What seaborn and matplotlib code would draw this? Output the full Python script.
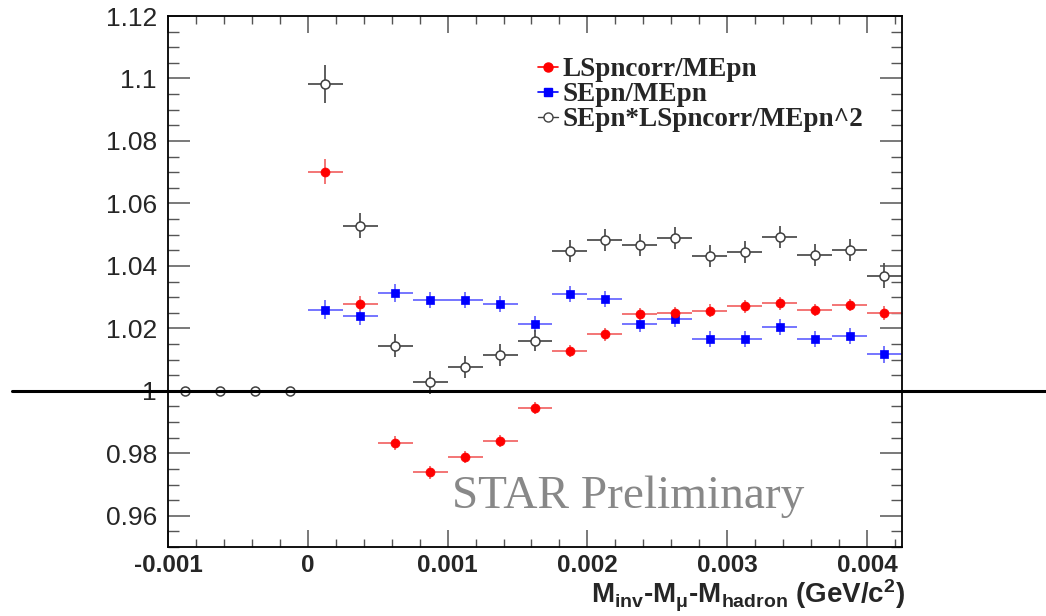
import numpy as np
import pandas as pd
import matplotlib
matplotlib.use("Agg")
import matplotlib.pyplot as plt
import matplotlib.ticker as mticker
import matplotlib.transforms as mtransforms
from matplotlib.lines import Line2D
import seaborn as sns

# bin centres (GeV/c^2)
bin_centers = [-0.000875, -0.000625, -0.000375, -0.000125,
               0.000125, 0.000375, 0.000625, 0.000875, 0.001125,
               0.001375, 0.001625, 0.001875, 0.002125, 0.002375,
               0.002625, 0.002875, 0.003125, 0.003375, 0.003625,
               0.003875, 0.004125]
half_bin = 0.000125

# LSpncorr/MEpn (starts at bin 5)
ls_ratio = [1.0701, 1.0279, 0.9832, 0.9739, 0.9788, 0.9840, 0.9945, 1.0127,
            1.0181, 1.0246, 1.0248, 1.0257, 1.0270, 1.0280, 1.0259, 1.0274, 1.0248]
ls_err = [0.0040, 0.0025, 0.0022, 0.0020, 0.0020, 0.0020, 0.0020, 0.0020,
          0.0020, 0.0020, 0.0020, 0.0020, 0.0020, 0.0020, 0.0020, 0.0020, 0.0022]

# SEpn/MEpn (starts at bin 5)
se_ratio = [1.0260, 1.0240, 1.0314, 1.0292, 1.0292, 1.0277, 1.0215, 1.0311,
            1.0295, 1.0213, 1.0231, 1.0167, 1.0167, 1.0204, 1.0167, 1.0175, 1.0117]
se_err = [0.0030, 0.0028, 0.0028, 0.0026, 0.0026, 0.0026, 0.0026, 0.0026,
          0.0026, 0.0026, 0.0026, 0.0026, 0.0026, 0.0026, 0.0026, 0.0026, 0.0028]

# SEpn*LSpncorr/MEpn^2 (all bins)
prod_ratio = [1.0, 1.0, 1.0, 1.0,
              1.0983, 1.0529, 1.0144, 1.0027, 1.0075, 1.0115, 1.0161, 1.0447,
              1.0482, 1.0468, 1.0488, 1.0433, 1.0444, 1.0492, 1.0436, 1.0450, 1.0369]
prod_err = [0.0, 0.0, 0.0, 0.0,
            0.0060, 0.0040, 0.0037, 0.0037, 0.0035, 0.0035, 0.0035, 0.0035,
            0.0035, 0.0035, 0.0035, 0.0035, 0.0035, 0.0035, 0.0035, 0.0035, 0.0040]

labels = ["LSpncorr/MEpn", "SEpn/MEpn", "SEpn*LSpncorr/MEpn^2"]

#style
sns.set_theme(style="ticks")
plt.rcParams["font.family"] = ["Liberation Sans", "DejaVu Sans"]
plt.rcParams["mathtext.fontset"] = "custom"
plt.rcParams["mathtext.rm"] = "Liberation Sans:bold"
plt.rcParams["mathtext.bf"] = "Liberation Sans:bold"
plt.rcParams["mathtext.it"] = "Liberation Sans:bold"
plt.rcParams["mathtext.default"] = "bf"

fig = plt.figure(figsize=(10.46, 6.16), dpi=100)
fig.patch.set_facecolor("white")
ax = fig.add_axes([0.1606, 0.112, 0.7017, 0.862])

x_ls = bin_centers[4:]
df_ls = pd.DataFrame({"x": x_ls, "y": ls_ratio})
df_se = pd.DataFrame({"x": x_ls, "y": se_ratio})
df_pr = pd.DataFrame({"x": bin_centers, "y": prod_ratio})

xerr_pr = [0.0 if e == 0 else half_bin for e in prod_err]

# error bars
ax.errorbar(x_ls, se_ratio, xerr=half_bin, yerr=se_err, fmt="none",
            ecolor="#6a6aff", elinewidth=1.3, capsize=0, zorder=2)
ax.errorbar(x_ls, ls_ratio, xerr=half_bin, yerr=ls_err, fmt="none",
            ecolor="#f26a6a", elinewidth=1.3, capsize=0, zorder=2)
ax.errorbar(bin_centers, prod_ratio, xerr=xerr_pr, yerr=prod_err, fmt="none",
            ecolor="#505050", elinewidth=1.3, capsize=0, zorder=2)

# markers
sns.scatterplot(data=df_se, x="x", y="y", marker="s", s=36, color="#0000ff",
                edgecolor="#0000ff", linewidth=0.5, ax=ax, zorder=3)
sns.scatterplot(data=df_ls, x="x", y="y", marker="o", s=42, color="#ff0000",
                edgecolor="#ff0000", linewidth=0.5, ax=ax, zorder=4)
sns.scatterplot(data=df_pr, x="x", y="y", marker="o", s=42, color="white",
                edgecolor="#404040", linewidth=1.1, ax=ax, zorder=4)

# line at 1 across the whole canvas
trans = mtransforms.blended_transform_factory(fig.transFigure, ax.transData)
ax.plot([12 / 1046, 1.0], [1.0, 1.0], transform=trans, color="black",
        lw=2.2, clip_on=False, zorder=5)

ax.set_xlim(-0.001, 0.00425)
ax.set_ylim(0.95, 1.12)
ax.xaxis.set_major_locator(mticker.MultipleLocator(0.001))
ax.xaxis.set_minor_locator(mticker.MultipleLocator(0.0002))
ax.yaxis.set_major_locator(mticker.MultipleLocator(0.02))
ax.yaxis.set_minor_locator(mticker.MultipleLocator(0.005))
fmt = mticker.FuncFormatter(lambda v, p: f"{v:g}" if abs(v) > 1e-12 else "0")
ax.xaxis.set_major_formatter(fmt)
ax.yaxis.set_major_formatter(fmt)

ax.tick_params(axis="both", which="both", direction="in", top=True, right=True,
               color="#555555")
ax.tick_params(axis="y", which="major", length=15.5, width=1.1, pad=8, labelsize=19)
ax.tick_params(axis="y", which="minor", length=8, width=1.0)
ax.tick_params(axis="x", which="major", length=12, width=1.1, pad=5, labelsize=17.5)
ax.tick_params(axis="x", which="minor", length=6, width=1.0)
for lab in ax.get_xticklabels():
    lab.set_fontweight("bold")
for sp in ax.spines.values():
    sp.set_color("black")
    sp.set_linewidth(1.3)

ax.set_xlabel(r"$M_{inv}$-$M_{\mu}$-$M_{hadron}$ (GeV/c$^{2}$)",
              fontsize=20, fontweight="bold", ha="right")
ax.xaxis.set_label_coords(1.004, -0.058)
ax.xaxis.label.set_va("top")
ax.set_ylabel("")

ax.text(0.387, 0.0734, "STAR Preliminary", transform=ax.transAxes,
        fontsize=34, family="Liberation Serif", color="#888888", va="baseline")

handles = [
    Line2D([], [], color="#ff0000", lw=1.2, marker="o", markersize=6.5),
    Line2D([], [], color="#0000ff", lw=1.2, marker="s", markersize=6),
    Line2D([], [], color="#404040", lw=1.0, marker="o", markersize=6.5,
           markerfacecolor="white"),
]
ax.legend(handles, labels, loc="upper left", bbox_to_anchor=(0.504, 0.922),
          frameon=False, borderpad=0, borderaxespad=0, handlelength=0.75,
          handletextpad=0.15, labelspacing=0.0,
          prop={"family": "Liberation Serif", "weight": "bold", "size": 19.5})

plt.savefig("out.png", dpi=100, facecolor="white")
